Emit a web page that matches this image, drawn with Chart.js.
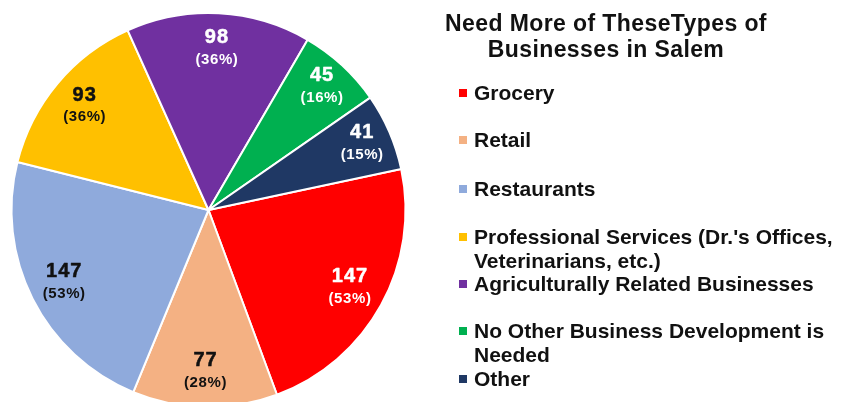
<!DOCTYPE html>
<html>
<head>
<meta charset="utf-8">
<script src="https://cdn.jsdelivr.net/npm/chart.js@4/dist/chart.umd.min.js"></script>
<style>
	html, body { margin: 0; padding: 0; background: #fff; }
	#wrap { position: relative; width: 848px; height: 402px; overflow: hidden; }
	#chart { position: absolute; left: 0; top: 0; }
	.title {
		position: absolute; left: 430px; width: 352px; top: 10px;
		font: bold 23px "Liberation Sans", Arial, sans-serif; line-height: 26px;
		text-align: center; color: #111; letter-spacing: 0.4px;
	}
	.item {
		position: absolute; left: 474px; width: 370px;
		font: bold 21px "Liberation Sans", Arial, sans-serif; line-height: 24px; color: #111;
	}
	.item i { position: absolute; left: -15px; top: 8px; width: 8px; height: 8px; }
</style>
</head>
<body>
<div id="wrap">
	<canvas id="chart" width="848" height="420"></canvas>
	<div class="title">Need More of TheseTypes of<br>Businesses in Salem</div>
	<div id="legend"></div>
</div>
<script>
const categories = [
	'Grocery',
	'Retail',
	'Restaurants',
	"Professional Services (Dr.'s Offices, Veterinarians, etc.)",
	'Agriculturally Related Businesses',
	'No Other Business Development is Needed',
	'Other'
];
const legendLines = [
	['Grocery'],
	['Retail'],
	['Restaurants'],
	["Professional Services (Dr.'s Offices,", 'Veterinarians, etc.)'],
	['Agriculturally Related Businesses'],
	['No Other Business Development is', 'Needed'],
	['Other']
];
const counts = [147, 77, 147, 93, 98, 45, 41];
const percents = ['53%', '28%', '53%', '36%', '36%', '16%', '15%'];
const colors = ['#FF0000', '#F4B183', '#8FAADC', '#FFC000', '#7030A0', '#00B050', '#1F3864'];
const labelColors = ['#fff', '#111', '#111', '#111', '#fff', '#fff', '#fff'];
const legendTops = [81, 128, 177, 225, 272, 319, 367];

// legend (html, two-line entries like the original)
const legend = document.getElementById('legend');
legendLines.forEach(function (lines, i) {
	const div = document.createElement('div');
	div.className = 'item';
	div.style.top = legendTops[i] + 'px';
	const mark = document.createElement('i');
	mark.style.background = colors[i];
	div.appendChild(mark);
	div.appendChild(document.createTextNode(lines[0]));
	if (lines[1]) {
		div.appendChild(document.createElement('br'));
		div.appendChild(document.createTextNode(lines[1]));
	}
	legend.appendChild(div);
});

const sliceLabels = {
	id: 'sliceLabels',
	afterDatasetsDraw(chart) {
		const ctx = chart.ctx;
		const meta = chart.getDatasetMeta(0);
		ctx.save();
		ctx.textAlign = 'center';
		ctx.textBaseline = 'middle';
		ctx.lineJoin = 'round';
		meta.data.forEach(function (arc, i) {
			const p = arc.getProps(['x', 'y', 'startAngle', 'endAngle', 'outerRadius'], true);
			const mid = (p.startAngle + p.endAngle) / 2;
			const r = p.outerRadius * (counts[i] < 60 ? 0.85 : 0.82);
			const x = p.x + Math.cos(mid) * r;
			const y = p.y + Math.sin(mid) * r;
			ctx.fillStyle = labelColors[i];
			ctx.strokeStyle = labelColors[i];
			ctx.lineWidth = 0.5;
			ctx.letterSpacing = '1px';
			ctx.font = 'bold 20px "Liberation Sans", Arial, sans-serif';
			ctx.fillText(String(counts[i]), x, y - 11);
			ctx.strokeText(String(counts[i]), x, y - 11);
			ctx.letterSpacing = '0.6px';
			ctx.font = 'bold 15px "Liberation Sans", Arial, sans-serif';
			ctx.fillText('(' + percents[i] + ')', x, y + 11);
		});
		ctx.restore();
	}
};

new Chart(document.getElementById('chart').getContext('2d'), {
	type: 'pie',
	data: {
		labels: categories,
		datasets: [{
			data: counts,
			backgroundColor: colors,
			borderColor: '#ffffff',
			borderWidth: 2
		}]
	},
	options: {
		responsive: false,
		animation: false,
		rotation: 78,
		layout: { padding: { left: 10, top: 12, right: 441, bottom: 12 } },
		plugins: {
			legend: { display: false },
			tooltip: { enabled: false }
		}
	},
	plugins: [sliceLabels]
});
</script>
</body>
</html>
